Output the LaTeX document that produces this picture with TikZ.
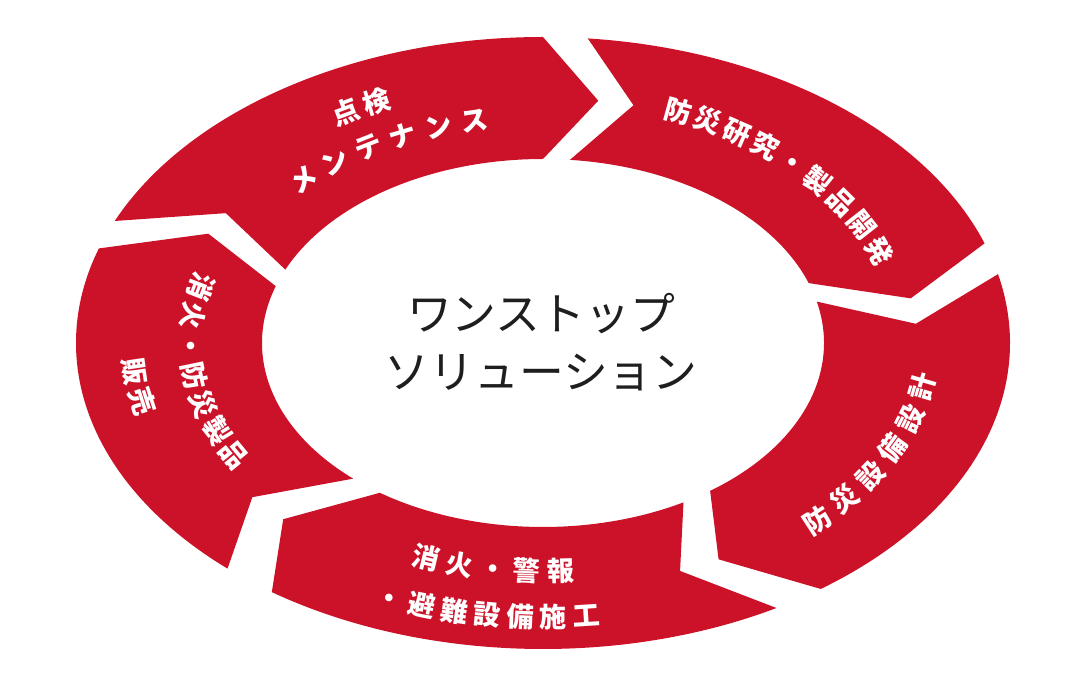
\documentclass[tikz,border=0pt]{standalone}
\usepackage{fontspec}
\setmainfont{Noto Sans CJK JP}
\usetikzlibrary{decorations.text}
\definecolor{ringred}{HTML}{CC1229}
\definecolor{hubink}{HTML}{1E1E1E}
% ring radii (outer, mid, inner)
\def\orx{9.34}\def\ory{6.12}
\def\mrx{7.48}\def\mry{4.90}
\def\irx{5.62}\def\iry{3.68}
\newcommand{\labelfmt}[1]{\color{white}\bfseries\fontsize{15.5}{16}\selectfont\kern#1}

\begin{document}
\begin{tikzpicture}[
  segment/.style={fill=ringred, draw=none},
  arclabel/.style 2 args={decorate, decoration={text along path, raise=-5.9pt,
                          text={|\labelfmt{#2}|#1}}},
  hubtext/.style={font=\fontsize{25.5}{33}\selectfont, text=hubink, align=center}
]
\useasboundingbox (0,0) rectangle (21.7,13.68);

\begin{scope}[shift={(10.86,6.82)}]
% five arrow segments, clockwise
\foreach \s/\e in {156.5/90, 84.5/19, 13/-53.5, -60/-125.5, 227.5/162}
  \fill[segment] (\s:\orx cm and \ory cm)
    arc[start angle=\s, end angle=\e, x radius=\orx, y radius=\ory]
    -- (\e-8.5:\mrx cm and \mry cm) -- (\e:\irx cm and \iry cm)
    arc[start angle=\e, end angle=\s, x radius=\irx, y radius=\iry]
    -- (\s-8.5:\mrx cm and \mry cm) -- cycle;

% labels along the ring
\path[arclabel={点検}{3pt}] (122.2:8.08 and 5.30)
  arc[start angle=122.2, end angle=95, x radius=8.08, y radius=5.30];
\path[arclabel={メンテナンス}{5.3pt}] (138.5:6.92 and 4.54)
  arc[start angle=138.5, end angle=85, x radius=6.92, y radius=4.54];
\path[arclabel={防災研究・製品開発}{2.4pt}] (71:7.24 and 5.00)
  arc[start angle=71, end angle=8, x radius=7.24, y radius=5.00];
\path[arclabel={防災設備設計}{4.3pt}] (-48.3:7.70 and 5.04)
  arc[start angle=-48.3, end angle=8, x radius=7.70, y radius=5.04];
\path[arclabel={消火・警報}{3.8pt}] (-113.1:6.96 and 4.56)
  arc[start angle=-113.1, end angle=-70, x radius=6.96, y radius=4.56];
\path[arclabel={・避難設備施工}{3.3pt}] (-114.3:8.36 and 5.48)
  arc[start angle=-114.3, end angle=-65, x radius=8.36, y radius=5.48];
\path[arclabel={消火・防災製品}{1.5pt}] (162.3:7.04 and 4.64)
  arc[start angle=162.3, end angle=228, x radius=7.04, y radius=4.64];
\path[arclabel={販売}{2.1pt}] (182.3:8.20 and 5.40)
  arc[start angle=182.3, end angle=215, x radius=8.20, y radius=5.40];
\end{scope}

% centre
\node[hubtext] (hub) at (10.82,6.84) {ワンストップ\\ソリューション};
\end{tikzpicture}
\end{document}
